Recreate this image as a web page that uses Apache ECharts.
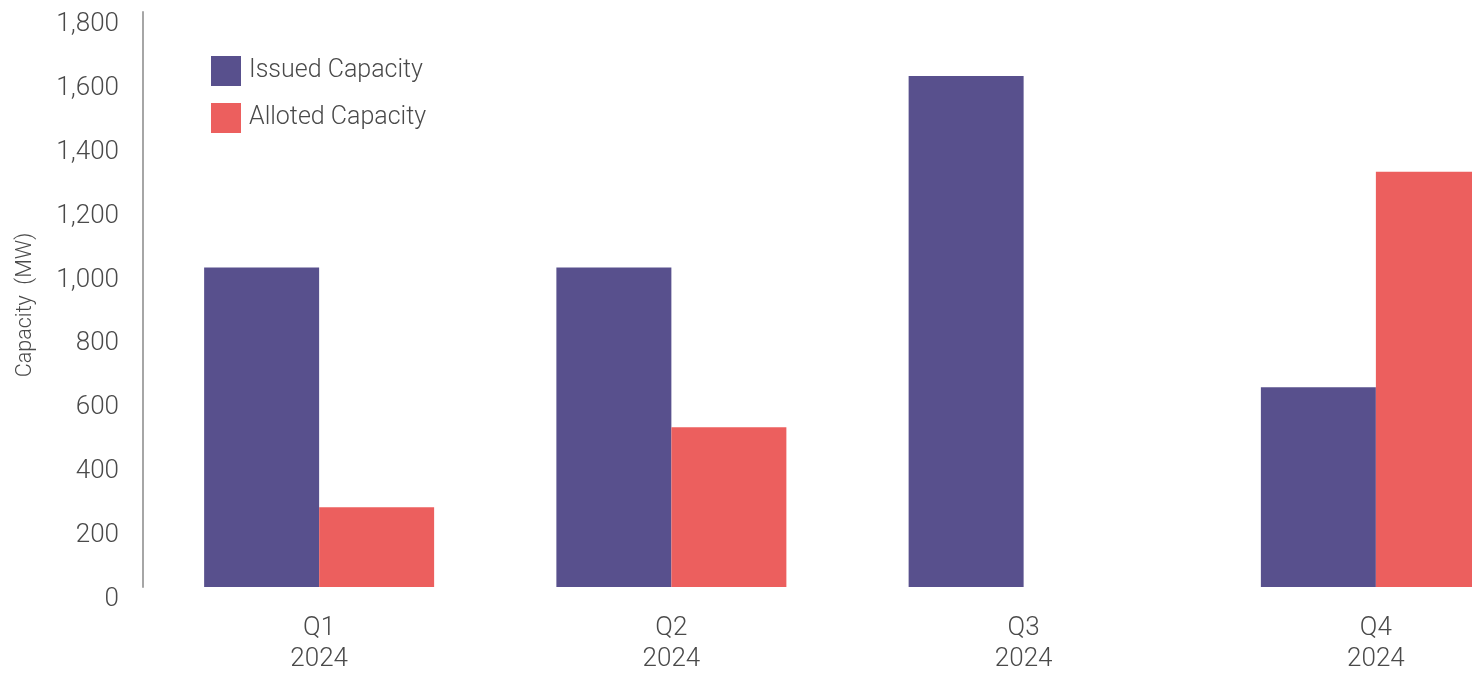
<!DOCTYPE html>
<html>
<head>
<meta charset="utf-8">
<script src="https://cdn.jsdelivr.net/npm/echarts@6/dist/echarts.min.js"></script>
<style>
  html, body { margin: 0; padding: 0; background: #ffffff; }
  #chart { width: 1472px; height: 673px; }
</style>
</head>
<body>
<div id="chart"></div>
<script>
// Quarterly capacity, MW
const quarters = ['Q1\n2024', 'Q2\n2024', 'Q3\n2024', 'Q4\n2024'];
const issuedCapacity = [1000, 1000, 1600, 625];
const allotedCapacity = [250, 500, 0, 1300];
const seriesNames = ['Issued Capacity', 'Alloted Capacity'];
const yAxisTitle = 'Capacity  (MW)';

const FONT = 'Roboto, "Noto Sans", sans-serif';
const TEXT = '#4a4a4a';

const chart = echarts.init(document.getElementById('chart'), null, { renderer: 'canvas' });

chart.setOption({
  animation: false,
  backgroundColor: '#ffffff',
  // plot area runs past the right edge of the canvas, so the last bar is cut off
  grid: {
    left: 143, width: 1409, top: 12, bottom: 86,
    containLabel: false,
    outerBoundsMode: 'none'
  },
  legend: {
    orient: 'vertical',
    left: 211,
    top: 56,
    padding: 0,
    itemWidth: 30,
    itemHeight: 30,
    itemGap: 17,
    icon: 'rect',
    data: seriesNames,
    textStyle: { fontFamily: FONT, fontSize: 25, fontWeight: 300, color: TEXT, padding: [0, 0, 0, 3] }
  },
  xAxis: {
    type: 'category',
    data: quarters,
    axisLine: { show: false },
    axisTick: { show: false },
    axisLabel: {
      margin: 26,
      fontFamily: FONT,
      fontSize: 26,
      fontWeight: 300,
      lineHeight: 31,
      color: TEXT
    }
  },
  yAxis: {
    type: 'value',
    min: 0,
    max: 1800,
    interval: 200,
    name: yAxisTitle,
    nameLocation: 'middle',
    nameGap: 106,
    nameTextStyle: { fontFamily: FONT, fontSize: 21.5, fontWeight: 300, color: TEXT, padding: [0, 11, 0, 0] },
    axisLine: { show: true, lineStyle: { color: '#a6a6a6', width: 2 } },
    axisTick: { show: false },
    splitLine: { show: false },
    axisLabel: {
      margin: 24,
      fontFamily: FONT,
      fontSize: 26,
      fontWeight: 300,
      color: TEXT,
      verticalAlign: 'top',
      lineHeight: 25,
      formatter: v => v.toLocaleString('en-US')
    }
  },
  series: [
    {
      name: seriesNames[0],
      type: 'bar',
      data: issuedCapacity,
      barWidth: 115,
      barGap: '0%',
      itemStyle: { color: '#58508d' }
    },
    {
      name: seriesNames[1],
      type: 'bar',
      data: allotedCapacity,
      barWidth: 115,
      barGap: '0%',
      itemStyle: { color: '#ec5f5e' }
    }
  ]
});
</script>
</body>
</html>
